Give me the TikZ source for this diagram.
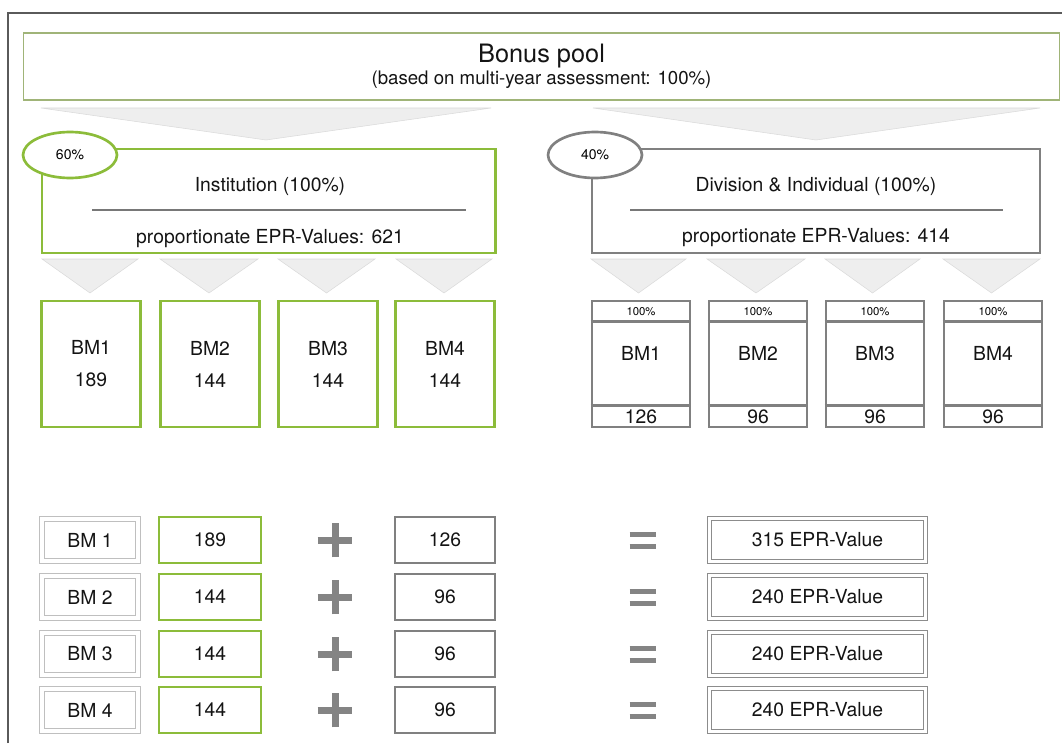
\documentclass[tikz,border=0pt]{standalone}
\usepackage{fontspec}
\setmainfont{TeX Gyre Heros}
\usetikzlibrary{shapes.geometric,calc,positioning}

\definecolor{bmgreen}{RGB}{140,188,58}
\definecolor{poolgreen}{RGB}{160,180,120}
\definecolor{bmgrey}{RGB}{128,128,128}
\definecolor{rulegrey}{RGB}{120,120,120}
\definecolor{framegrey}{RGB}{90,90,90}
\definecolor{funnelfill}{RGB}{238,238,238}
\definecolor{funneledge}{RGB}{218,218,218}
\definecolor{signgrey}{RGB}{132,132,132}

\tikzset{
  txt/.style={font=\fontsize{14.5}{17}\selectfont, text=black!92},
  poolbox/.style={draw=poolgreen, line width=1.4pt, minimum width=777pt, minimum height=50pt, align=center},
  instbox/.style={draw=bmgreen, line width=2pt, minimum width=340pt, minimum height=78pt},
  divbox/.style={draw=bmgrey, line width=2pt, minimum width=336pt, minimum height=78pt},
  shareoval/.style={ellipse, line width=2pt, fill=white, minimum width=70.5pt, minimum height=34.5pt, inner sep=0pt, font=\fontsize{10.5}{12}\selectfont},
  greenbm/.style={draw=bmgreen, line width=2pt, minimum width=74pt, minimum height=94.5pt, align=center, text=black!92, font=\fontsize{14.5}{24}\selectfont},
  greybm/.style={draw=bmgrey, line width=2pt, minimum width=73.5pt, minimum height=94.5pt},
  funnel/.style={fill=funnelfill, draw=funneledge, line width=0.4pt},
  rowbase/.style={txt, minimum height=34.5pt, inner sep=0pt},
  labelbox/.style={rowbase, draw=black!25, line width=0.5pt, double=white, double distance=3.5pt, minimum width=72pt, minimum height=31.5pt},
  greenval/.style={rowbase, draw=bmgreen, line width=2pt, minimum width=76.5pt},
  greyval/.style={rowbase, draw=bmgrey, line width=2pt, minimum width=75pt},
  resultbox/.style={rowbase, draw=black!45, line width=0.8pt, double=white, double distance=2pt, minimum width=162pt, minimum height=32pt},
  sign/.style={draw=signgrey}
}

\begin{document}
\begin{tikzpicture}[x=0.75pt, y=-0.75pt]
  \useasboundingbox (0,0) rectangle (1062,745);
  % frame
  \draw[framegrey, line width=0.8pt] (8,743) -- (8,13) -- (1062,13);

  % bonus pool
  \node[poolbox, text=black!92] (pool) at (541.5,66.5)
    {{\fontsize{19}{20}\selectfont Bonus pool}\\[1pt]{\fontsize{14}{15}\selectfont (based on multi-year assessment: 100\%)}};
  \fill[funnel] (41,108) -- (491,108) -- (266,140) -- cycle;
  \fill[funnel] (593,108) -- (1040,108) -- (816,140) -- cycle;

  % institution and division
  \node[instbox] (inst) at (268.5,201) {};
  \node[divbox] (div) at (816,201) {};
  \node[txt] (insttitle) at (270,187) {Institution (100\%)};
  \node[txt] (instvalue) at (270,239) {proportionate EPR-Values: 621};
  \node[txt] (divtitle) at (816,187) {Division \& Individual (100\%)};
  \node[txt] (divvalue) at (816,238) {proportionate EPR-Values: 414};
  \draw[rulegrey, line width=2.2pt] (92,210) -- (466,210);
  \draw[rulegrey, line width=2.2pt] (630,210) -- (1003,210);
  \node[shareoval, draw=bmgreen] (instshare) at (70,155) {60\%};
  \node[shareoval, draw=bmgrey] (divshare) at (595,155) {40\%};

  % small funnels
  \foreach \a/\b in {42/138, 160/258, 278/375, 396/492, 591/686, 707/805, 825/920, 943/1040}
    \fill[funnel] (\a,259) -- (\b,259) -- ({(\a+\b)/2},293) -- cycle;

  % institution BMs
  \foreach \i/\x/\v in {1/91/189, 2/210/144, 3/328/144, 4/445/144}
    \node[greenbm] (ibm\i) at (\x,364) {BM\i\\\v};

  % division BMs
  \foreach \i/\x/\v in {1/641/126, 2/758/96, 3/875/96, 4/993/96} {
    \node[greybm] (dbm\i) at (\x,364) {};
    \draw[bmgrey, line width=2pt] ([yshift=-16.5pt]dbm\i.north west) -- ([yshift=-16.5pt]dbm\i.north east);
    \draw[bmgrey, line width=2pt] ([yshift=17pt]dbm\i.south west) -- ([yshift=17pt]dbm\i.south east);
    \node[font=\fontsize{8.5}{10}\selectfont] (dpct\i) at ([yshift=-9pt]dbm\i.north) {100\%};
    \node[txt] (dname\i) at ([yshift=8pt]dbm\i.center) {BM\i};
    \node[txt] (dval\i) at ([yshift=8.5pt]dbm\i.south) {\v};
  }

  % sums
  \foreach \i/\y/\g/\d/\r in {1/540/189/126/315, 2/597/144/96/240, 3/654/144/96/240, 4/710/144/96/240} {
    \node[labelbox] (lbl\i) at (90,\y) {BM \i};
    \node[greenval] (gval\i) at (210,\y) {\g};
    \node[greyval] (dsum\i) at (445,\y) {\d};
    \node[resultbox] (res\i) at (817.5,\y) {\r\ EPR-Value};
    \coordinate (plus\i) at (335,\y);
    \coordinate (eq\i) at (643,\y);
    \draw[sign, line width=5.25pt] ([xshift=-13pt]plus\i) -- ([xshift=13pt]plus\i);
    \draw[sign, line width=5.25pt] ([yshift=-13pt]plus\i) -- ([yshift=13pt]plus\i);
    \draw[sign, line width=3.75pt] ([xshift=-10pt,yshift=4.5pt]eq\i) -- ([xshift=10pt,yshift=4.5pt]eq\i);
    \draw[sign, line width=3.75pt] ([xshift=-10pt,yshift=-4.5pt]eq\i) -- ([xshift=10pt,yshift=-4.5pt]eq\i);
  }
\end{tikzpicture}
\end{document}
